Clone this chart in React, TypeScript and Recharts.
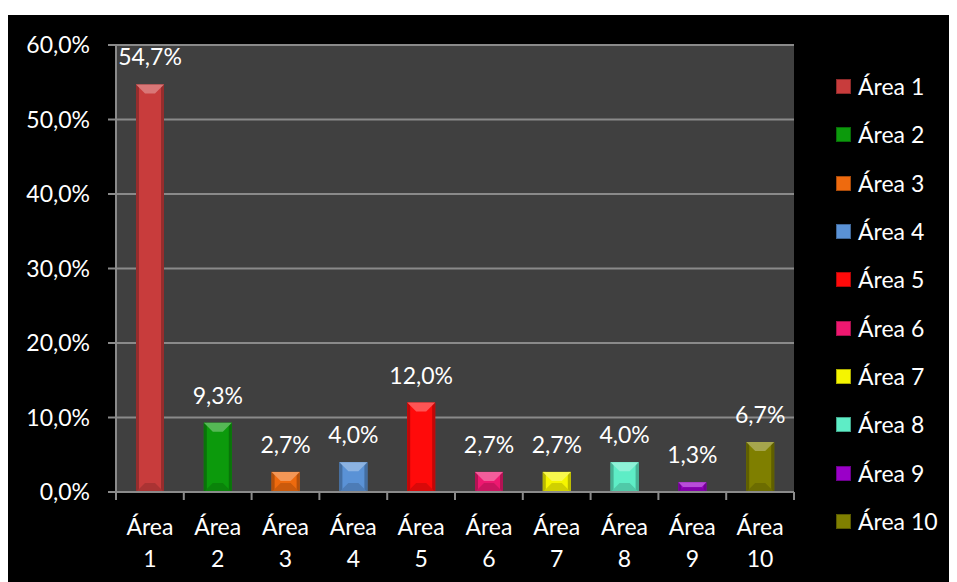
import React from 'react';
import { BarChart, Bar, XAxis, YAxis, CartesianGrid, Cell, LabelList } from 'recharts';

const categories = ['Área 1', 'Área 2', 'Área 3', 'Área 4', 'Área 5', 'Área 6', 'Área 7', 'Área 8', 'Área 9', 'Área 10'];
const values = [54.7, 9.3, 2.7, 4.0, 12.0, 2.7, 2.7, 4.0, 1.3, 6.7];
const colors = ['#C83C3C', '#0C9A0C', '#EE6A0E', '#5A92D6', '#FF0A0A', '#EE1870', '#F5F500', '#5EEDC6', '#9A00C8', '#7F7F00'];
const yTicks = [0, 10, 20, 30, 40, 50, 60];

const data = categories.map((c, i) => ({ name: c, value: values[i] }));

const W = 949;
const H = 567;
const MARGIN = { top: 30, right: 163, left: 0, bottom: 0 };
const Y_W = 108;
const X_H = 90;
const FONT = 'Lato, "DejaVu Sans", sans-serif';
const GRID = '#8a8a8a';

const fmt = (v: number) => v.toFixed(1).replace('.', ',') + '%';

const plotW = W - MARGIN.left - MARGIN.right - Y_W;
const step = plotW / categories.length;

const XTick = (props: any) => {
  const { x, y, payload, index } = props;
  const parts = String(payload.value).split(' ');
  const lx = x - step / 2;
  return (
    <g>
      <line x1={lx} y1={y} x2={lx} y2={y + 8} stroke={GRID} strokeWidth={2} />
      {index === categories.length - 1 && (
        <line x1={x + step / 2} y1={y} x2={x + step / 2} y2={y + 8} stroke={GRID} strokeWidth={2} />
      )}
      <text x={x} y={y} textAnchor="middle" fill="#fff" fontSize={23} fontFamily={FONT}>
        <tspan x={x} y={y + 43}>{parts[0]}</tspan>
        <tspan x={x} y={y + 75}>{parts[1]}</tspan>
      </text>
    </g>
  );
};

const shade = (hex: string, f: number) => {
  const n = parseInt(hex.slice(1), 16);
  let r = (n >> 16) & 255, g = (n >> 8) & 255, b = n & 255;
  if (f >= 0) {
    r = Math.round(r + (255 - r) * f); g = Math.round(g + (255 - g) * f); b = Math.round(b + (255 - b) * f);
  } else {
    r = Math.round(r * (1 + f)); g = Math.round(g * (1 + f)); b = Math.round(b * (1 + f));
  }
  return `rgb(${r},${g},${b})`;
};

const BevelBar = (props: any) => {
  const { x, y, width, height, index } = props;
  if (!height || height <= 0) return null;
  const c = colors[index];
  const d = Math.min(9, height / 2);
  return (
    <g>
      <rect x={x} y={y} width={width} height={height} fill={c} />
      <rect x={x} y={y} width={3} height={height} fill={shade(c, -0.25)} />
      <rect x={x + width - 3} y={y} width={3} height={height} fill={shade(c, -0.25)} />
      <polygon points={`${x},${y} ${x + width},${y} ${x + width - d},${y + d} ${x + d},${y + d}`} fill={shade(c, 0.3)} />
      <polygon points={`${x},${y + height} ${x + width},${y + height} ${x + width - d},${y + height - d} ${x + d},${y + height - d}`} fill={shade(c, -0.15)} />
    </g>
  );
};

const LegendBox = () => (
  <div style={{ position: 'absolute', left: 828, top: 47.5, fontFamily: FONT, color: '#fff', fontSize: 23 }}>
    {categories.map((c, i) => (
      <div key={c} style={{ height: 48.3, display: 'flex', alignItems: 'center' }}>
        <div style={{ width: 15, height: 15, background: colors[i], boxShadow: `inset 0 0 0 1px ${shade(colors[i], -0.3)}`, marginRight: 7 }} />
        <span style={{ lineHeight: '23px' }}>{c}</span>
      </div>
    ))}
  </div>
);

export default function App() {
  return (
    <div style={{ paddingTop: 7 }}>
      <div style={{ position: 'relative', width: W, height: H, background: '#000' }}>
        <BarChart width={W} height={H} data={data} margin={MARGIN}>
          <CartesianGrid vertical={false} stroke={GRID} strokeWidth={2} fill="#404040" />
          <XAxis
            dataKey="name"
            height={X_H}
            interval={0}
            tickSize={0}
            tickMargin={0}
            tickLine={false}
            axisLine={{ stroke: GRID, strokeWidth: 2 }}
            tick={<XTick />}
          />
          <YAxis
            width={Y_W}
            domain={[0, 60]}
            ticks={yTicks}
            tickFormatter={fmt}
            tickSize={8}
            tickMargin={18}
            axisLine={{ stroke: GRID, strokeWidth: 2 }}
            tickLine={{ stroke: GRID, strokeWidth: 2 }}
            tick={{ fill: '#fff', fontSize: 23, fontFamily: FONT }}
          />
          <Bar dataKey="value" barSize={28} isAnimationActive={false} shape={<BevelBar />}>
            {data.map((d, i) => (
              <Cell key={d.name} fill={colors[i]} />
            ))}
            <LabelList dataKey="value" position="top" offset={19} formatter={(v: any) => fmt(Number(v))} fill="#fff" fontSize={23} fontFamily={FONT} />
          </Bar>
        </BarChart>
        <LegendBox />
      </div>
    </div>
  );
}
